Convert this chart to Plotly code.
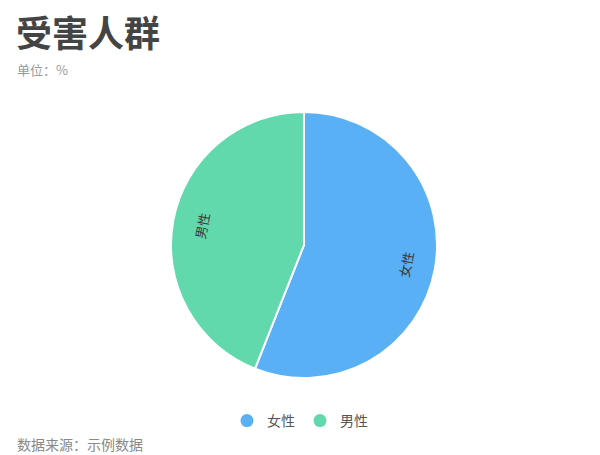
import math
import plotly.graph_objects as go

categories = ["女性", "男性"]
values = [56, 44]
colors = ["#5AB0F4", "#62D9AD"]

title_text = "受害人群"
subtitle_text = "单位：%"
source_text = "数据来源：示例数据"

FONT = "Noto Sans CJK SC"
W, H = 600, 455
CX, CY, R = 304, 245, 133  # pie centre and radius in pixels

fig = go.Figure()
fig.add_trace(go.Pie(
    labels=categories,
    values=values,
    sort=False,
    direction="clockwise",
    rotation=0,
    marker=dict(colors=colors, line=dict(color="white", width=2)),
    textinfo="none",
    showlegend=False,
    hoverinfo="label+value",
    domain=dict(x=[(CX - R) / W, (CX + R) / W], y=[1 - (CY + R) / H, 1 - (CY - R) / H]),
))

for name, c in zip(categories, colors):
    fig.add_trace(go.Scatter(
        x=[None], y=[None], mode="markers", name=name,
        marker=dict(symbol="circle", size=13, color=c),
        showlegend=True,
    ))

# slice labels, placed tangentially at each slice's mid-angle
annotations = []
total = sum(values)
cum = 0
for name, v in zip(categories, values):
    mid = (cum + v / 2) / total * 360
    cum += v
    rad = math.radians(mid)
    rr = 0.78 * R
    ang = mid - 180 if mid < 180 else mid - 360
    annotations.append(dict(
        text=name, x=(CX + rr * math.sin(rad)) / W, y=1 - (CY - rr * math.cos(rad)) / H,
        xref="paper", yref="paper", xanchor="center", yanchor="middle",
        showarrow=False, textangle=ang,
        font=dict(family=FONT, size=13, color="#3a3a3a"),
    ))

annotations += [
    dict(text="<b>" + title_text + "</b>", x=14 / W, y=1 - 31 / H, xref="paper", yref="paper",
         xanchor="left", yanchor="middle", showarrow=False,
         font=dict(family=FONT, size=36, color="#444444")),
    dict(text=subtitle_text, x=15 / W, y=1 - 69 / H, xref="paper", yref="paper",
         xanchor="left", yanchor="middle", showarrow=False,
         font=dict(family=FONT, size=13, color="#999999")),
    dict(text=source_text, x=15 / W, y=1 - 444 / H, xref="paper", yref="paper",
         xanchor="left", yanchor="middle", showarrow=False,
         font=dict(family=FONT, size=14, color="#888888")),
]

fig.update_layout(
    width=W, height=H,
    margin=dict(l=0, r=0, t=0, b=0),
    paper_bgcolor="white",
    plot_bgcolor="white",
    xaxis=dict(visible=False),
    yaxis=dict(visible=False),
    font=dict(family=FONT, color="#333333"),
    legend=dict(
        orientation="h", x=0.5, xanchor="center", y=1 - 421 / H, yanchor="middle",
        font=dict(family=FONT, size=14, color="#555555"),
        itemwidth=30,
    ),
    annotations=annotations,
)

fig.write_html("out.html", config={"displayModeBar": False},
               post_script="document.body.style.margin='0';")
